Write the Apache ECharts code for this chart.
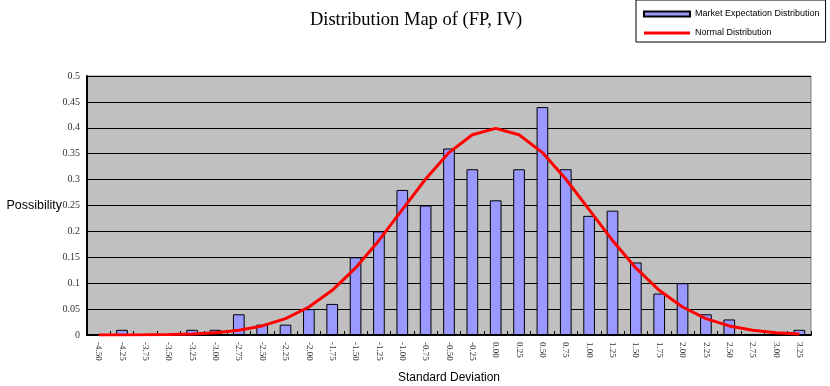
<!DOCTYPE html>
<html>
<head>
<meta charset="utf-8">
<script src="https://cdn.jsdelivr.net/npm/echarts@6/dist/echarts.min.js"></script>
<style>
  html, body { margin: 0; padding: 0; background: #ffffff; }
  #chart { width: 830px; height: 386px; }
</style>
</head>
<body>
<div id="chart"></div>
<script>
// Standard-deviation buckets on the horizontal axis
const categories = [
  '-4.50', '-4.25', '-3.75', '-3.50', '-3.25', '-3.00', '-2.75', '-2.50',
  '-2.25', '-2.00', '-1.75', '-1.50', '-1.25', '-1.00', '-0.75', '-0.50',
  '-0.25', '0.00', '0.25', '0.50', '0.75', '1.00', '1.25', '1.50',
  '1.75', '2.00', '2.25', '2.50', '2.75', '3.00', '3.25'
];

// Observed market expectation frequency per bucket
const marketExpectation = [
  0, 0.01, 0, 0, 0.01, 0.01, 0.04, 0.02,
  0.02, 0.05, 0.06, 0.15, 0.20, 0.28, 0.25, 0.36,
  0.32, 0.26, 0.32, 0.44, 0.32, 0.23, 0.24, 0.14,
  0.08, 0.10, 0.04, 0.03, 0, 0, 0.01
];

// Reference normal density per bucket
const normalDistribution = [
  0.0000, 0.0001, 0.0004, 0.0009, 0.0020, 0.0044, 0.0091, 0.0175,
  0.0317, 0.0540, 0.0863, 0.1295, 0.1826, 0.2420, 0.3011, 0.3521,
  0.3867, 0.3989, 0.3867, 0.3521, 0.3011, 0.2420, 0.1826, 0.1295,
  0.0863, 0.0540, 0.0317, 0.0175, 0.0091, 0.0044, 0.0020
];

const serif = '"Liberation Serif", "Times New Roman", serif';
const sans = '"Liberation Sans", Arial, sans-serif';

const chart = echarts.init(document.getElementById('chart'), null, { renderer: 'canvas' });

chart.setOption({
  animation: false,
  backgroundColor: '#ffffff',
  title: {
    text: 'Distribution Map of (FP, IV)',
    left: 411,
    textAlign: 'center',
    top: 6,
    textStyle: { fontFamily: serif, fontSize: 18.5, fontWeight: 'normal', color: '#000' }
  },
  legend: {
    orient: 'vertical',
    left: 636,
    top: 0,
    padding: [8, 6, 3, 7],
    itemGap: 7,
    itemWidth: 46,
    itemHeight: 5,
    itemTextGap: 4,
    backgroundColor: '#ffffff',
    borderColor: '#000000',
    borderWidth: 1,
    borderRadius: 0,
    textStyle: { fontFamily: sans, fontSize: 9, color: '#000', lineHeight: 12 },
    data: [
      { name: 'Market Expectation Distribution', icon: 'rect' },
      { name: 'Normal Distribution', icon: 'path://M0,0H46V3H0Z' }
    ]
  },
  grid: {
    left: 87,
    right: 19,
    top: 76,
    bottom: 51,
    show: true,
    backgroundColor: '#c0c0c0',
    borderColor: '#808080',
    borderWidth: 1,
    containLabel: false,
    outerBoundsMode: 'none'
  },
  xAxis: {
    type: 'category',
    data: categories,
    boundaryGap: true,
    name: 'Standard Deviation',
    nameLocation: 'middle',
    nameGap: 37,
    nameMoveOverlap: false,
    nameTextStyle: { fontFamily: sans, fontSize: 12, color: '#000' },
    axisLine: { show: true, lineStyle: { color: '#000', width: 2 } },
    axisTick: { show: true, inside: true, length: 4, alignWithLabel: false, lineStyle: { color: '#000', width: 1 } },
    axisLabel: {
      interval: 0,
      rotate: -90,
      margin: 7,
      fontFamily: serif,
      fontSize: 9,
      color: '#333'
    },
    splitLine: { show: false }
  },
  yAxis: {
    type: 'value',
    min: 0,
    max: 0.5,
    interval: 0.05,
    name: 'Possibility',
    nameLocation: 'middle',
    nameRotate: 0,
    nameGap: 25,
    nameMoveOverlap: false,
    nameTextStyle: { fontFamily: sans, fontSize: 12.5, color: '#000', align: 'right' },
    axisLine: { show: true, lineStyle: { color: '#000', width: 2 } },
    axisTick: { show: false },
    axisLabel: { margin: 7, fontFamily: serif, fontSize: 10, color: '#333' },
    splitLine: { show: true, lineStyle: { color: '#000', width: 1.2 } }
  },
  series: [
    {
      name: 'Market Expectation Distribution',
      type: 'bar',
      data: marketExpectation,
      barWidth: '50%',
      itemStyle: { color: '#9999ff', borderColor: '#000', borderWidth: 1 },
      z: 2
    },
    {
      name: 'Normal Distribution',
      type: 'line',
      data: normalDistribution,
      smooth: false,
      symbol: 'none',
      showSymbol: false,
      itemStyle: { color: '#ff0000' },
      lineStyle: { color: '#ff0000', width: 3 },
      z: 3
    }
  ]
});
</script>
</body>
</html>
